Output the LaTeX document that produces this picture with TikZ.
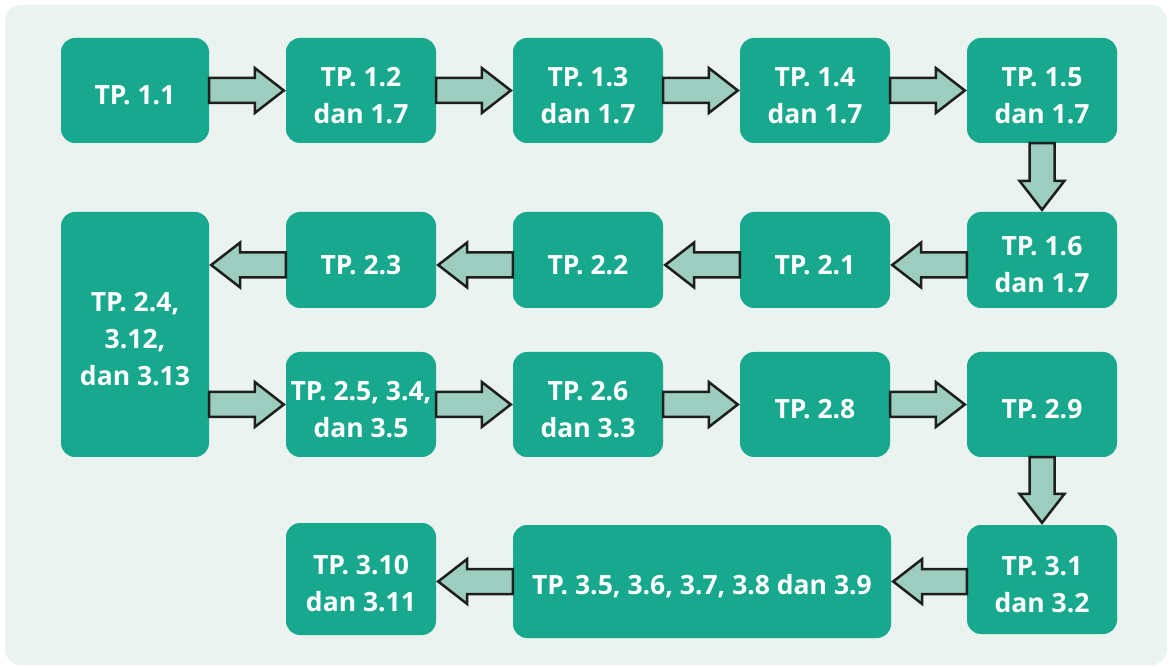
\documentclass[tikz,border=0pt]{standalone}
\usepackage{fontspec}
\setmainfont{Open Sans}
\usetikzlibrary{calc}
\definecolor{bgc}{HTML}{EAF3EF}
\definecolor{boxc}{HTML}{17A88E}
\definecolor{arrc}{HTML}{9CCDBF}
\definecolor{arrd}{HTML}{1E1E1E}
\tikzset{
  tpbox/.style={fill=boxc, draw=none, rounded corners=14pt, inner sep=0pt,
    minimum width=150pt},
  tptext/.style={text=white, font=\fontsize{26.5}{37}\selectfont\bfseries,
    align=center, inner sep=0pt, yshift=-5pt},
  fatarrowstyle/.style={fill=arrc, draw=arrd, line width=2.5pt, line join=miter, miter limit=10},
}
\newcommand\fatarrow[2]{%
  \coordinate (faA) at (#1);
  \coordinate (faT) at (#2);
  \coordinate (faB) at ($(faT)!2pt!(faA)$);
  \coordinate (faH) at ($(faB)!29pt!(faA)$);
  \draw[fatarrowstyle] ($(faA)!12.5pt!90:(faB)$) -- ($(faH)!12.5pt!90:(faB)$) -- ($(faH)!22.5pt!90:(faB)$) -- (faB) -- ($(faH)!22.5pt!-90:(faB)$) -- ($(faH)!12.5pt!-90:(faB)$) -- ($(faA)!12.5pt!-90:(faB)$) -- cycle;}
\begin{document}
\begin{tikzpicture}[x=1pt,y=-1pt]
\useasboundingbox (0,0) rectangle (1171,668);
\fill[white] (0,0) rectangle (1171,668);
\fill[bgc, rounded corners=16pt] (5,5) rectangle (1167,665);
% row 1
\node[tpbox, minimum width=148pt, minimum height=105pt, label={[tptext]center:TP. 1.1}] (b11) at (135,90.5) {};
\node[tpbox, minimum height=105pt, label={[tptext]center:{TP. 1.2\\dan 1.7}}] (b12) at (361,90.5) {};
\node[tpbox, minimum height=105pt, label={[tptext]center:{TP. 1.3\\dan 1.7}}] (b13) at (588,90.5) {};
\node[tpbox, minimum height=105pt, label={[tptext]center:{TP. 1.4\\dan 1.7}}] (b14) at (815,90.5) {};
\node[tpbox, minimum height=105pt, label={[tptext]center:{TP. 1.5\\dan 1.7}}] (b15) at (1042,90.5) {};
% row 2
\node[tpbox, minimum width=148pt, minimum height=245pt, label={[tptext]center:{TP. 2.4,\\3.12,\\dan 3.13}}] (b24) at (135,334.5) {};
\node[tpbox, minimum height=96pt, label={[tptext]center:TP. 2.3}] (b23) at (361,260) {};
\node[tpbox, minimum height=96pt, label={[tptext]center:TP. 2.2}] (b22) at (588,260) {};
\node[tpbox, minimum height=96pt, label={[tptext]center:TP. 2.1}] (b21) at (815,260) {};
\node[tpbox, minimum height=96pt, label={[tptext]center:{TP. 1.6\\dan 1.7}}] (b16) at (1042,260) {};
% row 3
\node[tpbox, minimum height=105pt, label={[tptext]center:{TP. 2.5, 3.4,\\dan 3.5}}] (b25) at (361,404.5) {};
\node[tpbox, minimum height=105pt, label={[tptext]center:{TP. 2.6\\dan 3.3}}] (b26) at (588,404.5) {};
\node[tpbox, minimum height=105pt, label={[tptext]center:TP. 2.8}] (b28) at (815,404.5) {};
\node[tpbox, minimum height=105pt, label={[tptext]center:TP. 2.9}] (b29) at (1042,404.5) {};
% row 4
\node[tpbox, minimum height=112pt, label={[tptext]center:{TP. 3.10\\dan 3.11}}] (b310) at (361,579) {};
\node[tpbox, minimum width=378pt, minimum height=113pt, label={[tptext]center:{TP. 3.5, 3.6, 3.7, 3.8 dan 3.9}}] (b35) at (702,581.5) {};
\node[tpbox, minimum height=109pt, label={[tptext]center:{TP. 3.1\\dan 3.2}}] (b31) at (1042,579.5) {};
% arrows
\fatarrow{b11.east}{b12.west}
\fatarrow{b12.east}{b13.west}
\fatarrow{b13.east}{b14.west}
\fatarrow{b14.east}{b15.west}
\fatarrow{b15.south}{b16.north}
\fatarrow{$(b16.west)+(0,5)$}{$(b21.east)+(0,5)$}
\fatarrow{$(b21.west)+(0,5)$}{$(b22.east)+(0,5)$}
\fatarrow{$(b22.west)+(0,5)$}{$(b23.east)+(0,5)$}
\fatarrow{$(b23.west)+(0,5)$}{$(b23.west -| b24.east)+(0,5)$}
\fatarrow{b25.west -| b24.east}{b25.west}
\fatarrow{b25.east}{b26.west}
\fatarrow{b26.east}{b28.west}
\fatarrow{b28.east}{b29.west}
\fatarrow{b29.south}{b31.north}
\fatarrow{b31.west |- b35.east}{b35.east}
\fatarrow{b35.west}{b35.west -| b310.east}
\end{tikzpicture}
\end{document}
